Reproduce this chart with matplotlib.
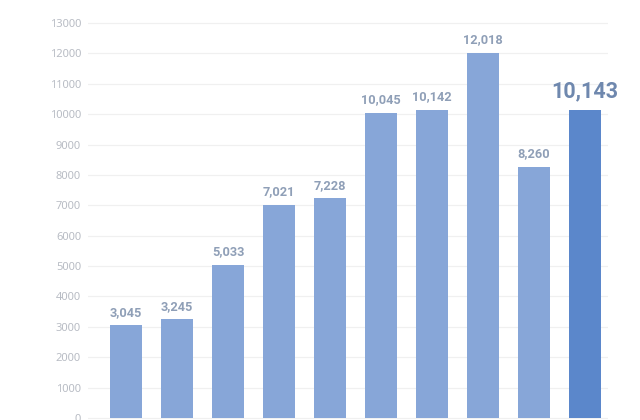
import matplotlib
matplotlib.use("Agg")
import matplotlib.pyplot as plt

values = [3045, 3245, 5033, 7021, 7228, 10045, 10142, 12018, 8260, 10143]
labels = ["3,045", "3,245", "5,033", "7,021", "7,228", "10,045", "10,142", "12,018", "8,260", "10,143"]
yticks = list(range(0, 14000, 1000))

fig = plt.figure(figsize=(6.4, 4.2), dpi=100)
ax = fig.add_axes([88/640, 0, 520/640, 410/420])
x = list(range(len(values)))
colors = ["#87a6d8"] * (len(values) - 1) + ["#5b87cb"]
ax.bar(x, values, width=0.62, color=colors, zorder=2)
ax.set_xlim(-0.745, 9.45)
ax.set_ylim(-66, 13428)
ax.set_yticks(yticks)
ax.set_yticklabels([str(t) for t in yticks], fontsize=8, color="#b8bcc4", family="Noto Sans")
ax.tick_params(axis="y", length=0, pad=5)
ax.set_xticks([])
ax.grid(axis="y", color="#f0f0f0", linewidth=0.9, zorder=0)
for s in ax.spines.values():
    s.set_visible(False)
for i, (v, l) in enumerate(zip(values, labels)):
    last = i == len(values) - 1
    ax.text(i, v + (260 if last else 220), l, ha="center", va="bottom",
            fontsize=15.5 if last else 9.2, fontweight="bold",
            color="#6f88ae" if last else "#8f9fb7", family="Roboto")
fig.savefig("out.png", dpi=100)
